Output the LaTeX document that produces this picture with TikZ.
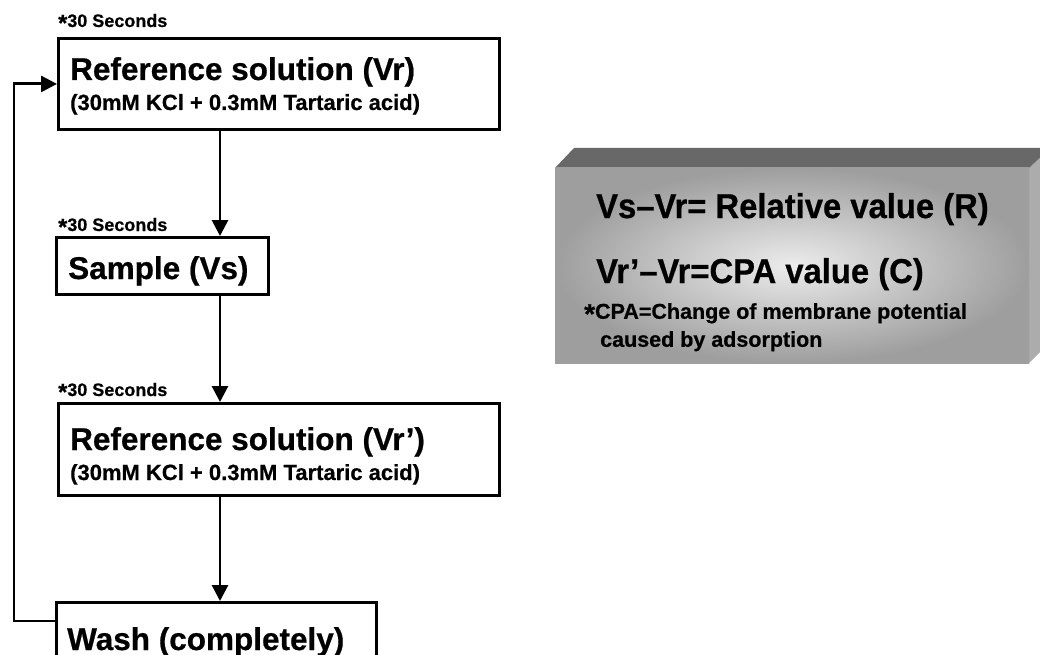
\documentclass[tikz,border=0pt]{standalone}
\usepackage{fontspec}
\setmainfont{Liberation Sans}[BoldFeatures={FakeBold=0.6}]
\newfontfamily\eqfont[FakeStretch=0.95,BoldFeatures={FakeBold=0.6,FakeStretch=0.95}]{Liberation Sans}
\usetikzlibrary{arrows.meta}
\newcommand{\heavyast}{\raisebox{-0.22em}{\scalebox{1.3}{*}}}
\definecolor{frontout}{RGB}{158,158,158}
\definecolor{frontin}{RGB}{236,236,236}
\definecolor{topface}{RGB}{104,104,104}
\definecolor{sideface}{RGB}{172,172,172}
\tikzset{
  stepbox/.style={draw, line width=2.9pt, inner sep=0pt, anchor=north west},
  bigtxt/.style={font=\fontsize{31.5}{36}\selectfont\bfseries, anchor=base west, inner sep=0pt},
  subtxt/.style={font=\fontsize{22}{26}\selectfont\bfseries, anchor=base west, inner sep=0pt},
  labtxt/.style={font=\fontsize{18}{22}\selectfont\bfseries, anchor=base west, inner sep=0pt},
  eqtxt/.style={font=\eqfont\fontsize{34.5}{38}\selectfont\bfseries, anchor=base west, inner sep=0pt},
  notetxt/.style={font=\fontsize{21.5}{28}\selectfont\bfseries, inner sep=0pt, align=left},
  arr/.style={line width=2.9pt, -{Triangle[length=16pt,width=16pt]}}
}
\begin{document}
\begin{tikzpicture}[x=1pt,y=-1pt]
\useasboundingbox (0,0) rectangle (1040,655);
\clip (0,0) rectangle (1040,655);
\fill[white] (0,0) rectangle (1040,655);

% boxes
\node[stepbox, minimum width=441pt, minimum height=91pt] (ref1) at (57,37) {};
\node[stepbox, minimum width=212pt, minimum height=57pt] (samp) at (55,236) {};
\node[stepbox, minimum width=441pt, minimum height=92pt] (ref2) at (57,402) {};
\node[stepbox, minimum width=320pt, minimum height=90pt] (wash) at (55,601) {};

% labels
\node[labtxt] (l1) at (58,27) {\heavyast30 Seconds};
\node[labtxt] (l2) at (58,231) {\heavyast30 Seconds};
\node[labtxt] (l3) at (58,396) {\heavyast30 Seconds};

% box texts
\node[bigtxt] (t1) at (70,80) {Reference solution (Vr)};
\node[subtxt] (s1) at (70,110) {(30mM KCl + 0.3mM Tartaric acid)};
\node[bigtxt] (t2) at (68,279) {Sample (Vs)};
\node[bigtxt] (t3) at (70,450) {Reference solution (Vr’)};
\node[subtxt] (s3) at (70,480) {(30mM KCl + 0.3mM Tartaric acid)};
\node[bigtxt] (t4) at (67,650) {Wash (completely)};

% connectors
\coordinate (a1) at ([xshift=163pt]ref1.south west);
\draw[arr] (a1) -- (a1 |- samp.north);
\coordinate (a2) at ([xshift=165pt]samp.south west);
\draw[arr] (a2) -- (a2 |- ref2.north);
\coordinate (a3) at ([xshift=163pt]ref2.south west);
\draw[arr] (a3) -- (a3 |- wash.north);
\coordinate (lp) at ([yshift=-20pt]wash.north west);
\draw[arr] (lp) -- ++(-41,0) |- (ref1.west);

% 3D grey box
\fill[sideface] (1029,168) -- (1050,147) -- (1050,342) -- (1029,363) -- cycle;
\fill[topface] (555,168) -- (574,148) -- (1050,148) -- (1029,168) -- cycle;
\shade[inner color=frontin, outer color=frontout] (555,168) rectangle (1029,363);

\node[eqtxt] (e1) at (596,218) {Vs–Vr= Relative value (R)};
\node[eqtxt] (e2) at (596,283) {Vr’–Vr=CPA value (C)};
\node[notetxt, anchor=north west] (n1) at (584,303) {\heavyast CPA=Change of membrane potential\\\hspace*{16pt}caused by adsorption};
\end{tikzpicture}
\end{document}
